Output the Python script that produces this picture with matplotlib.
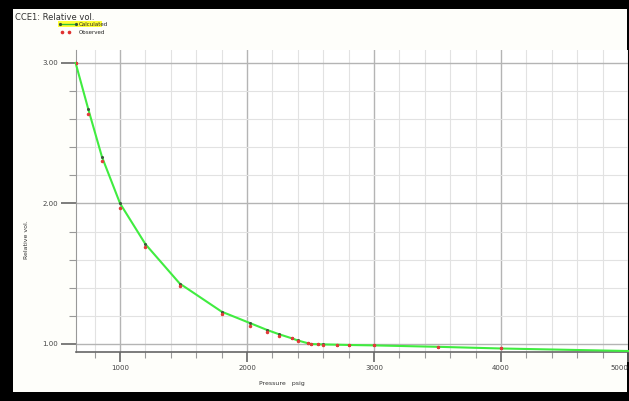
import matplotlib.pyplot as plt
from matplotlib.patches import Rectangle
from matplotlib.ticker import MultipleLocator
from matplotlib.lines import Line2D

pressure = [650, 750, 858, 1000, 1200, 1470, 1800, 2020, 2157, 2250, 2354, 2400,
            2480, 2500, 2555, 2600, 2709, 2800, 3000, 3500, 4000, 5000]
# Calculated relative volume
calculated = [3.00, 2.67, 2.33, 2.00, 1.71, 1.43, 1.23, 1.15, 1.10, 1.07, 1.04, 1.025,
              1.005, 1.000, 0.998, 0.997, 0.995, 0.993, 0.990, 0.980, 0.968, 0.950]

# Observed points
obs_pressure = [650, 750, 858, 1000, 1200, 1470, 1800, 2020, 2157, 2250, 2354, 2400,
                2480, 2500, 2555, 2600, 2709, 2800, 3000, 3500, 4000]
observed = [3.00, 2.64, 2.30, 1.965, 1.69, 1.41, 1.21, 1.13, 1.085, 1.057, 1.043, 1.02,
            1.005, 1.0, 1.0, 0.995, 0.995, 0.993, 0.99, 0.98, 0.972]

W, H = 629, 401
fig = plt.figure(figsize=(W / 100, H / 100), dpi=100)
fig.patch.set_facecolor('black')
# panel inside the black frame
fig.patches.append(Rectangle((13 / W, 9 / H), 614 / W, 383 / H, transform=fig.transFigure,
                             facecolor='#fefefa', edgecolor='none', zorder=-5))

ax = fig.add_axes([76 / W, (H - 352) / H, 552 / W, 302 / H])
ax.set_facecolor('white')

ax.set_xlim(653, 5000)
ax.set_ylim(0.943, 3.092)

# grid
ax.xaxis.set_major_locator(MultipleLocator(1000))
ax.xaxis.set_minor_locator(MultipleLocator(200))
ax.yaxis.set_major_locator(MultipleLocator(1.0))
ax.yaxis.set_minor_locator(MultipleLocator(0.2))
ax.grid(which='minor', color='#e2e2e2', lw=0.8)
ax.grid(which='major', color='#b4b4b4', lw=1.0)
ax.set_axisbelow(True)

for s in ['top', 'right']:
    ax.spines[s].set_visible(False)
ax.spines['left'].set_color('#999999')
ax.spines['bottom'].set_color('#666666')
ax.spines['bottom'].set_linewidth(1.2)

ax.tick_params(which='major', length=11, width=1.2, color='#666666', labelsize=5, pad=2,
               labelcolor='#444444')
ax.tick_params(which='minor', length=5, width=0.8, color='#999999')
ax.tick_params(axis='x', which='major', length=7)
ax.tick_params(axis='x', which='minor', length=4)
ax.yaxis.set_major_formatter(plt.FuncFormatter(lambda v, p: f'{v:.2f}'))
ax.xaxis.set_major_formatter(plt.FuncFormatter(lambda v, p: f'{int(v)}'))

ax.plot(pressure, calculated, color='#40ec40', lw=1.5, zorder=3, clip_on=False)
ax.plot(pressure[:-1], calculated[:-1], ls='none', marker='o', ms=1.2, color='#3a5a3a', zorder=4)
ax.plot(obs_pressure, observed, ls='none', marker='o', ms=1.5, color='#e23a3a', zorder=5)

fig.canvas.draw()
for lab in ax.get_xticklabels():
    if lab.get_text() == '5000':
        lab.set_ha('right')

fig.text(15 / W, 1 - 17 / H, 'CCE1: Relative vol.', fontsize=6, color='#333333', va='center')

# legend entries
fig.patches.append(Rectangle((58 / W, 1 - 27 / H), 44 / W, 6 / H, transform=fig.transFigure,
                             facecolor='#ffff33', edgecolor='none', zorder=1))
fig.lines.append(Line2D([60 / W, 76 / W], [1 - 24 / H, 1 - 24 / H], transform=fig.transFigure,
                        color='#33c033', lw=1, marker='o', ms=1.3, mfc='#335533',
                        mec='#335533', zorder=2))
fig.text(79 / W, 1 - 24 / H, 'Calculated', fontsize=4, va='center', color='#222222', zorder=3)
fig.lines.append(Line2D([62 / W, 69 / W], [1 - 32 / H, 1 - 32 / H], transform=fig.transFigure,
                        ls='none', marker='o', ms=1.6, color='#e03030'))
fig.text(79 / W, 1 - 32 / H, 'Observed', fontsize=4, va='center', color='#222222')

fig.text(27 / W, 1 - 240 / H, 'Relative vol.', fontsize=4.5, rotation=90,
         ha='center', va='center', color='#333333')
fig.text(282 / W, 1 - 383 / H, 'Pressure   psig', fontsize=4.5, ha='center', va='center',
         color='#333333')

fig.savefig('out.png', dpi=100, facecolor=fig.get_facecolor())
